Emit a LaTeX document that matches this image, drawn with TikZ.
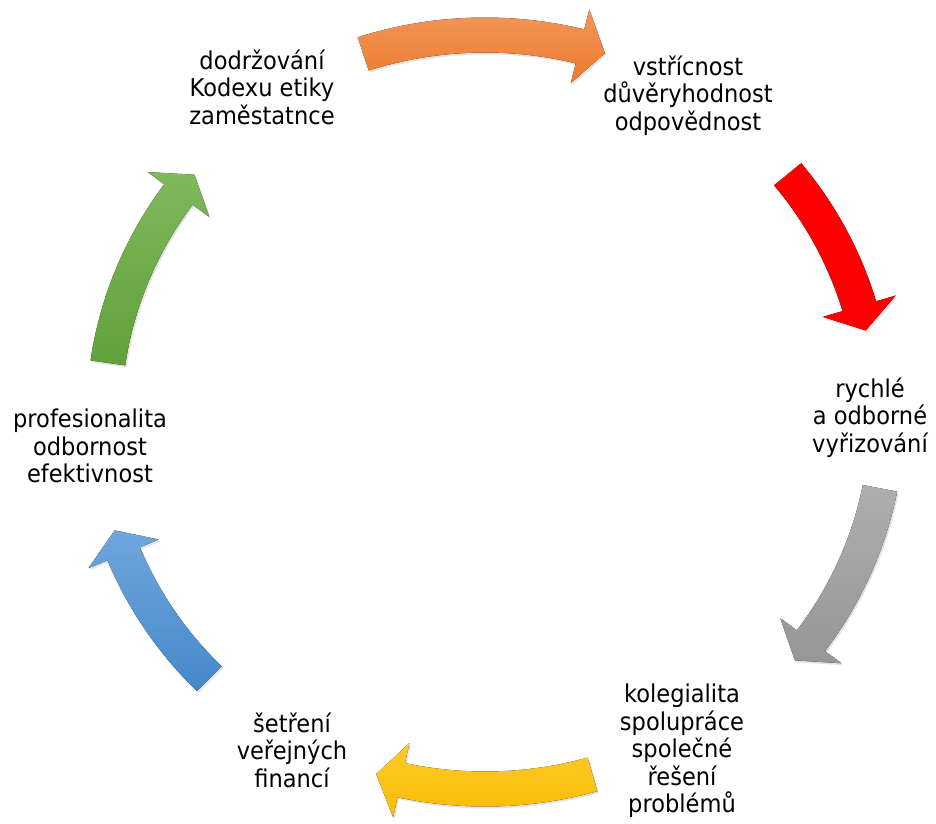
\documentclass[tikz,border=0pt]{standalone}
\usepackage{xcolor}
\usepackage{fontspec}
\setmainfont{DejaVu Sans}[FakeStretch=0.92]
\usepackage{tikz}
\usetikzlibrary{shadows}

\definecolor{orangetop}{RGB}{243,150,92}
\definecolor{orangebot}{RGB}{237,122,44}
\definecolor{redtop}{RGB}{255,0,0}
\definecolor{redbot}{RGB}{250,0,0}
\definecolor{graytop}{RGB}{174,174,174}
\definecolor{graybot}{RGB}{150,150,150}
\definecolor{yellowtop}{RGB}{255,202,45}
\definecolor{yellowbot}{RGB}{247,188,0}
\definecolor{bluetop}{RGB}{112,166,221}
\definecolor{bluebot}{RGB}{68,136,203}
\definecolor{greentop}{RGB}{128,184,92}
\definecolor{greenbot}{RGB}{96,161,56}

\tikzset{
	cyclabel/.style={align=center,inner sep=0pt,
		font=\fontsize{24.5}{27.5}\selectfont,
		execute at begin node=\strut,execute at end node=\strut},
	cycshadow/.style={drop shadow={shadow xshift=1.5pt,shadow yshift=-2pt,opacity=0.22}}
}

% #1 tail angle, #2 tip angle, #3 top colour, #4 bottom colour
\newcommand\cyclearrow[4]{
	\pgfmathsetmacro\hb{#2+3.8}
	\fill[cycshadow,top color=#3,bottom color=#4]
		(#1:{\rx+\bw} and {\ry+\bw})
		arc[start angle=#1,end angle=\hb,x radius=\rx+\bw,y radius=\ry+\bw]
		-- (\hb:{\rx+\hw} and {\ry+\hw})
		-- (#2:{\rx} and {\ry})
		-- (\hb:{\rx-\hw} and {\ry-\hw})
		-- (\hb:{\rx-\bw} and {\ry-\bw})
		arc[start angle=\hb,end angle=#1,x radius=\rx-\bw,y radius=\ry-\bw]
		-- cycle;
}

\begin{document}
\begin{tikzpicture}[x=1pt,y=1pt]
		\def\rx{390}
		\def\ry{377}
		\def\bw{17.5}
		\def\hw{38}
		\useasboundingbox (-485,-411) rectangle (451,412);
		\cyclearrow{108.2}{72.1}{orangetop}{orangebot}
		\cyclearrow{39.1}{12.5}{redtop}{redbot}
		\begin{scope}[shift={(12,-5)}]
			\cyclearrow{-10.9}{-40.2}{graytop}{graybot}
		\end{scope}
		\cyclearrow{-74}{-106.2}{yellowtop}{yellowbot}
		\cyclearrow{225}{198.3}{bluetop}{bluebot}
		\begin{scope}[shift={(9,-4)}]
			\cyclearrow{171.9}{140.2}{greentop}{greenbot}
		\end{scope}
		\node[cyclabel] (kodex) at (-223,321) {dodržování\\Kodexu etiky\\zaměstatnce};
		\node[cyclabel] (vstricnost) at (203,315) {vstřícnost\\důvěryhodnost\\odpovědnost};
		\node[cyclabel] (vyrizovani) at (385,-7) {rychlé\\a odborné\\vyřizování};
		\node[cyclabel] (kolegialita) at (197,-340.5) {kolegialita\\spolupráce\\společné\\řešení\\problémů};
		\node[cyclabel] (setreni) at (-193,-342) {šetření\\veřejných\\financí};
		\node[cyclabel] (profese) at (-395,-38) {profesionalita\\odbornost\\efektivnost};
	\end{tikzpicture}
\end{document}
